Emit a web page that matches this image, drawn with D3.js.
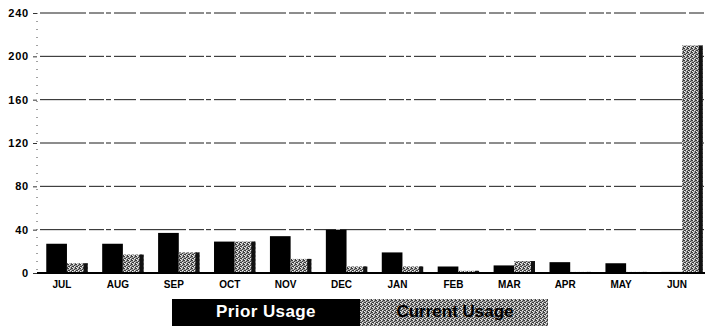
<!DOCTYPE html>
<html><head><meta charset="utf-8">
<script src="https://cdn.jsdelivr.net/npm/d3@7"></script>
<style>body{margin:0;background:#fff}svg{display:block}</style>
</head><body>
<svg id="c" width="711" height="326"></svg>
<script>
const months = ["JUL","AUG","SEP","OCT","NOV","DEC","JAN","FEB","MAR","APR","MAY","JUN"];
const priorUsage = [27, 27, 37, 29, 34, 40, 19, 6, 7, 10, 9, 1];
const currentUsage = [9, 17, 19, 29, 13, 6, 6, 2, 11, 1, 1, 210];
const yTicks = [0, 40, 80, 120, 160, 200, 240];
const seriesNames = ["Prior Usage", "Current Usage"];

const svg = d3.select("#c");
const defs = svg.append("defs");
const pat = defs.append("pattern").attr("id","dither").attr("width",4).attr("height",4).attr("patternUnits","userSpaceOnUse");
pat.append("rect").attr("width",4).attr("height",4).attr("fill","#a2a2a2");
[[0,0],[2,1],[1,2],[3,3],[3,0],[0,2]].forEach(([a,b])=>pat.append("rect").attr("x",a).attr("y",b).attr("width",1).attr("height",1).attr("fill","#3a3a3a"));
[[1,0],[0,3],[2,2]].forEach(([a,b])=>pat.append("rect").attr("x",a).attr("y",b).attr("width",1).attr("height",1).attr("fill","#eee"));

const x = d3.scaleBand().domain(months).range([34, 705]).paddingInner(0.26).paddingOuter(0.13);
const xs = d3.scaleBand().domain(seriesNames).range([0, x.bandwidth()]);
const y = d3.scaleLinear().domain([0, 240]).range([273, 13]);
const barShift = 5;

// gridlines
svg.append("g").selectAll("line").data(yTicks.filter(d=>d>0)).join("line")
  .attr("x1", 40).attr("x2", 705).attr("y1", d=>y(d)).attr("y2", d=>y(d))
  .attr("stroke","#1a1a1a").attr("stroke-width",1)
  .attr("stroke-dasharray","46,3,15,2,5,3,22,4");

// y axis dotted
svg.append("line").attr("x1",37).attr("x2",37).attr("y1",y(240)).attr("y2",y(0))
  .attr("stroke","#444").attr("stroke-dasharray","1,7");

const yAxis = d3.axisLeft(y).tickValues(yTicks).tickSize(4).tickPadding(4);
const ya = svg.append("g").attr("transform","translate(37,0)").call(yAxis);
ya.select(".domain").remove();
ya.selectAll("line").attr("stroke","#333");
ya.selectAll("text").attr("font-family","Liberation Sans, Arial, sans-serif").attr("font-weight","bold").attr("font-size",11).attr("fill","#000").attr("letter-spacing","0.8");

// bars
const g = svg.append("g");
months.forEach((m,i)=>{
  const vals = [priorUsage[i], currentUsage[i]];
  seriesNames.forEach((s,j)=>{
    const bx = x(m) + xs(s) + barShift;
    const bw = xs.bandwidth();
    const top = y(vals[j]);
    if (j===0) {
      g.append("rect").attr("x",bx).attr("y",top).attr("width",bw).attr("height",y(0)-top).attr("fill","#000");
    } else {
      g.append("rect").attr("x",bx).attr("y",top).attr("width",bw).attr("height",y(0)-top).attr("fill","url(#dither)");
      g.append("rect").attr("x",bx+bw-4).attr("y",top).attr("width",4).attr("height",y(0)-top).attr("fill","#111");
    }
  });
});

// baseline
svg.append("line").attr("x1",37).attr("x2",705).attr("y1",y(0)).attr("y2",y(0)).attr("stroke","#000").attr("stroke-width",2);

// x axis labels
const xAxis = d3.axisBottom(x).tickSize(0).tickPadding(8);
const xa = svg.append("g").attr("transform",`translate(0,${y(0)})`).call(xAxis);
xa.select(".domain").remove();
xa.selectAll("text").attr("font-family","Liberation Sans, Arial, sans-serif").attr("font-weight","bold").attr("font-size",10).attr("fill","#000");

// legend
const leg = svg.append("g");
leg.append("rect").attr("x",172).attr("y",299).attr("width",188).attr("height",30).attr("fill","#000");
leg.append("rect").attr("x",360).attr("y",299).attr("width",188).attr("height",30).attr("fill","url(#dither)");
leg.append("text").attr("x",266).attr("y",317).attr("text-anchor","middle").attr("font-family","Liberation Sans, Arial, sans-serif").attr("font-weight","bold").attr("font-size",17).attr("fill","#fff").attr("letter-spacing","0.4").text(seriesNames[0]);
leg.append("text").attr("x",455).attr("y",317).attr("text-anchor","middle").attr("font-family","Liberation Sans, Arial, sans-serif").attr("font-weight","bold").attr("font-size",17).attr("fill","#000").text(seriesNames[1]);
</script>
</body></html>
